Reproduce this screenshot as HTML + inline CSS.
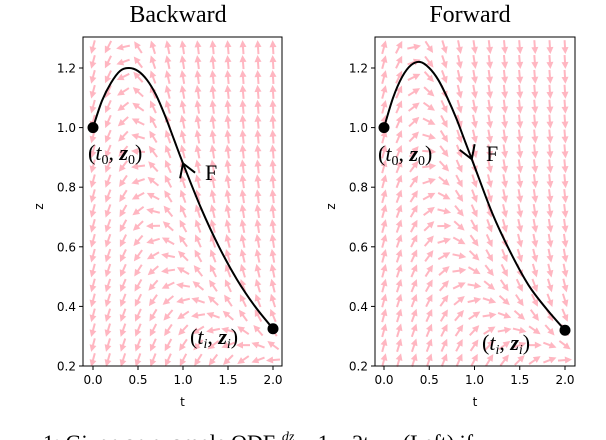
<!DOCTYPE html>
<html><head><meta charset="utf-8">
<style>
html,body{margin:0;padding:0;background:#fff;width:606px;height:440px;overflow:hidden}
svg{display:block}
.tick{font-family:"DejaVu Sans","Liberation Sans",sans-serif;font-size:12px;fill:#000}
.title{font-family:"Liberation Serif",serif;font-size:24px;fill:#000}
.math{font-family:"Liberation Serif",serif;font-size:22px;fill:#000}
</style></head>
<body>
<svg id="fig" width="606" height="440" viewBox="0 0 606 440" xmlns="http://www.w3.org/2000/svg">
<text class="title" x="178" y="22" text-anchor="middle">Backward</text>
<text class="title" x="470" y="22" text-anchor="middle">Forward</text>
<text class="math" x="43" y="450" font-size="24">1: Given an example ODE <tspan font-size="14" dy="-9" font-style="italic">dz</tspan><tspan dy="9"> = 1 − 2t · z  (Left) if</tspan></text>
</svg>
<script>
// ---- data ----
const xTicks = [0.0, 0.5, 1.0, 1.5, 2.0];
const yTicks = [0.2, 0.4, 0.6, 0.8, 1.0, 1.2];
const backT = [0, 0.1, 0.2, 0.3, 0.4, 0.5, 0.6, 0.7, 0.8, 0.9, 1.0, 1.2, 1.4, 1.6, 1.8, 2.0];
const backZ = [1.0, 1.09, 1.15, 1.19, 1.2, 1.19, 1.16, 1.11, 1.04, 0.96, 0.88, 0.73, 0.6, 0.49, 0.40, 0.325];
const fwdT = [0, 0.1, 0.2, 0.3, 0.4, 0.5, 0.6, 0.7, 0.8, 0.9, 1.0, 1.2, 1.4, 1.6, 1.8, 2.0];
const fwdZ = [1.0, 1.1, 1.17, 1.21, 1.22, 1.2, 1.16, 1.1, 1.03, 0.95, 0.87, 0.71, 0.58, 0.47, 0.39, 0.32];

const NS = "http://www.w3.org/2000/svg";
const svg = document.getElementById('fig');
function mk(tag, attrs, parent){const e=document.createElementNS(NS,tag);for(const k in attrs)e.setAttribute(k,attrs[k]);(parent||svg).appendChild(e);return e;}

function field(t,z){return 2.5*(0.45 - t*z);}

function panel(opt){
  const {left,right,top,bottom,x0,x2,sign,T,Z,name,arrowT,lblF,lbl0,lblI} = opt;
  const xs = t => x0 + (x2-x0)*t/2;
  const ys = z => bottom - (z-0.2)/0.2*59.6;
  const g = mk('g',{});
  
  
  const q = mk('g',{stroke:'#ffb6c1',fill:'#ffb6c1'},g);
  
  
  for(let i=0;i<13;i++){
    for(let j=0;j<22;j++){
      const t=i*2/12, z=0.22+j*0.05;
      const f=field(t,z);
      let dx=90*sign, dy=-f*298*sign;
      const L=Math.hypot(dx,dy); dx/=L; dy/=L;
      const len=14, cx=xs(t), cy=ys(z);
      const sx=cx-dx*len/2, sy=cy-dy*len/2, ex=cx+dx*len/2, ey=cy+dy*len/2;
      mk('line',{x1:sx,y1:sy,x2:ex-dx*3,y2:ey-dy*3,'stroke-width':2},q);
      const px=-dy, py=dx;
      mk('polygon',{points:`${ex},${ey} ${ex-dx*7+px*3.5},${ey-dy*7+py*3.5} ${ex-dx*7-px*3.5},${ey-dy*7-py*3.5}`,stroke:'none'},q);
    }
  }
  const ax=mk('rect',{x:left,y:top,width:right-left,height:bottom-top,fill:'none',stroke:'#000','stroke-width':1},g);
  
  
  xTicks.forEach(v=>{
    const x=xs(v);
    mk('line',{x1:x,y1:bottom,x2:x,y2:bottom+4,stroke:'#000'},g);
    const tx=mk('text',{x:x,y:bottom+18,'text-anchor':'middle',class:'tick','font-size':13},g);
    tx.textContent=v.toFixed(1);
    
    
  });
  yTicks.forEach(v=>{
    const y=ys(v);
    mk('line',{x1:left-4,y1:y,x2:left,y2:y,stroke:'#000'},g);
    const tx=mk('text',{x:left-7,y:y+4.5,'text-anchor':'end',class:'tick','font-size':13},g);
    tx.textContent=v.toFixed(1);
    
    
  });
  const xl=mk('text',{x:(left+right)/2,y:bottom+40,'text-anchor':'middle',class:'tick','font-size':16},g);
  xl.textContent='t';
  
  
  const yl=mk('text',{x:left-40,y:(top+bottom)/2+5,'text-anchor':'middle',class:'tick','font-size':16,transform:`rotate(-90 ${left-40} ${(top+bottom)/2+5})`},g);
  yl.textContent='z';
  
  
  const P=T.map((t,i)=>[xs(t),ys(Z[i])]);
  let d=`M${P[0][0]},${P[0][1]}`;
  for(let i=0;i<P.length-1;i++){
    const p0=P[Math.max(0,i-1)],p1=P[i],p2=P[i+1],p3=P[Math.min(P.length-1,i+2)];
    d+=` C${p1[0]+(p2[0]-p0[0])/6},${p1[1]+(p2[1]-p0[1])/6} ${p2[0]-(p3[0]-p1[0])/6},${p2[1]-(p3[1]-p1[1])/6} ${p2[0]},${p2[1]}`;
  }
  const c=mk('path',{d:d,fill:'none',stroke:'#000','stroke-width':2},g);
  
  
  let k=0; while(k<T.length-2 && T[k+1]<arrowT) k++;
  const fr=(arrowT-T[k])/(T[k+1]-T[k]);
  const ax0=xs(arrowT), ay0=ys(Z[k]+(Z[k+1]-Z[k])*fr);
  let ddx=(P[k+1][0]-P[k][0])*sign, ddy=(P[k+1][1]-P[k][1])*sign;
  const LL=Math.hypot(ddx,ddy); ddx/=LL; ddy/=LL;
  const pxx=-ddy, pyy=ddx;
  const ar=mk('path',{d:`M${ax0-ddx*13+pxx*8},${ay0-ddy*13+pyy*8} L${ax0},${ay0} L${ax0-ddx*13-pxx*8},${ay0-ddy*13-pyy*8}`,fill:'none',stroke:'#000','stroke-width':2},g);
  
  
  const d0=mk('circle',{cx:P[0][0],cy:P[0][1],r:5.5,fill:'#000'},g);
  
  
  const d1=mk('circle',{cx:P[P.length-1][0],cy:P[P.length-1][1],r:5.5,fill:'#000'},g);
  
  
  const f=mk('text',{x:lblF[0],y:lblF[1],class:'math'},g);
  f.textContent='F';
  
  
  const l0=mk('text',{x:lbl0[0],y:lbl0[1],class:'math'},g);
  l0.innerHTML='(<tspan font-style="italic">t</tspan><tspan font-size="14" dy="4">0</tspan><tspan dy="-4">, </tspan><tspan font-style="italic" font-weight="bold">z</tspan><tspan font-size="14" dy="4">0</tspan><tspan dy="-4">)</tspan>';
  
  
  const li=mk('text',{x:lblI[0],y:lblI[1],class:'math'},g);
  li.innerHTML='(<tspan font-style="italic">t</tspan><tspan font-size="14" dy="4" font-style="italic">i</tspan><tspan dy="-4">, </tspan><tspan font-style="italic" font-weight="bold">z</tspan><tspan font-size="14" dy="4" font-style="italic">i</tspan><tspan dy="-4">)</tspan>';
  
  
}

panel({left:83,right:282,top:37,bottom:366,x0:93,x2:273,sign:-1,T:backT,Z:backZ,name:'backward',arrowT:1.0,lblF:[205,180],lbl0:[88,160],lblI:[190,344]});
panel({left:375,right:575,top:37,bottom:366,x0:384,x2:565,sign:1,T:fwdT,Z:fwdZ,name:'forward',arrowT:0.97,lblF:[486,161],lbl0:[378,161],lblI:[482,350]});
</script>
</body></html>
